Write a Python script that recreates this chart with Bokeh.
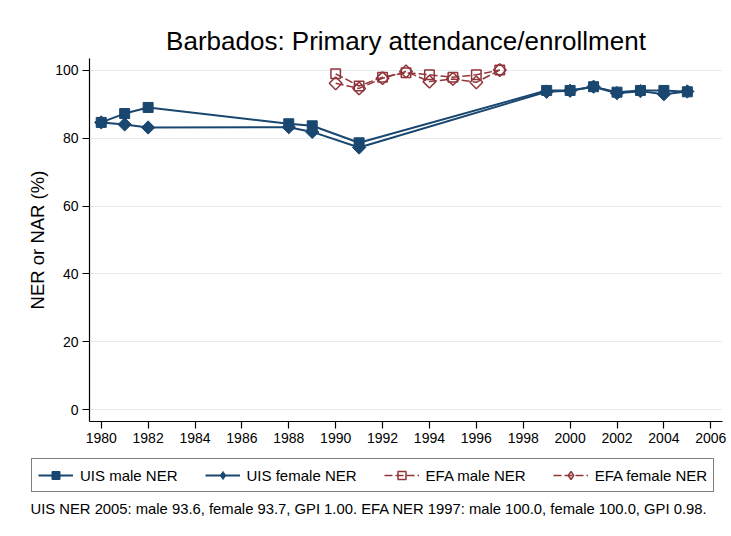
import math
from bokeh.plotting import figure
from bokeh.models import (ColumnDataSource, Legend, LegendItem, Label,
                          FixedTicker, Range1d)
from bokeh.embed import file_html
from bokeh.resources import INLINE

# ---- data ----
title_text = "Barbados: Primary attendance/enrollment"
y_label = "NER or NAR (%)"
footnote = ("UIS NER 2005: male 93.6, female 93.7, GPI 1.00. "
            "EFA NER 1997: male 100.0, female 100.0, GPI 0.98.")

uis_years = [1980, 1981, 1982, 1988, 1989, 1991, 1999, 2000, 2001, 2002, 2003, 2004, 2005]
uis_male = [84.6, 87.2, 89.0, 84.2, 83.6, 78.6, 94.0, 94.0, 95.1, 93.5, 94.0, 94.0, 93.6]
uis_female = [84.6, 84.0, 83.1, 83.2, 81.8, 77.2, 93.6, 93.9, 95.1, 93.2, 93.8, 92.9, 93.7]

efa_years = [1990, 1991, 1992, 1993, 1994, 1995, 1996, 1997]
efa_male = [98.9, 95.3, 97.9, 99.2, 98.6, 97.9, 98.6, 100.0]
efa_female = [96.1, 94.6, 97.6, 99.6, 96.6, 97.4, 96.4, 100.0]

x_ticks = list(range(1980, 2007, 2))
y_ticks = [0, 20, 40, 60, 80, 100]

series_labels = ["UIS male NER", "UIS female NER", "EFA male NER", "EFA female NER"]

NAVY = "#1a476f"
MAROON = "#90353b"
FONT = "Liberation Sans"

# plot markers: Stata-like diamonds are squares turned 45 degrees
STYLES = [
    dict(line_color=NAVY, line_width=2, line_dash="solid", marker="square",
         lmarker="square", size=10, angle=0.0, fill_color=NAVY, mline=1.0),
    dict(line_color=NAVY, line_width=2, line_dash="solid", marker="square",
         lmarker="diamond", size=9.4, angle=math.pi / 4, fill_color=NAVY, mline=1.0),
    dict(line_color=MAROON, line_width=1.5, line_dash="8 3", marker="square",
         lmarker="square", size=9.5, angle=0.0, fill_color=None, mline=1.5),
    dict(line_color=MAROON, line_width=1.5, line_dash="8 3", marker="square",
         lmarker="diamond", size=9, angle=math.pi / 4, fill_color=None, mline=1.5),
]


def add_series(fig, src, ycol, st, marker_key="marker"):
    lr = fig.line("x", ycol, source=src, line_color=st["line_color"],
                  line_width=st["line_width"], line_dash=st["line_dash"])
    sr = fig.scatter("x", ycol, source=src, marker=st[marker_key], size=st["size"],
                     angle=st["angle"], fill_color=st["fill_color"],
                     line_color=st["line_color"], line_width=st["mline"])
    return lr, sr


src_uis = ColumnDataSource(dict(x=uis_years, m=uis_male, f=uis_female))
src_efa = ColumnDataSource(dict(x=efa_years, m=efa_male, f=efa_female))
series_src = [(src_uis, "m"), (src_uis, "f"), (src_efa, "m"), (src_efa, "f")]

# ---- main chart ----
p = figure(width=731, height=452, output_backend="svg", toolbar_location=None,
           x_range=Range1d(1979.5, 2006.5), y_range=Range1d(-3.4, 103.4),
           min_border_left=89, min_border_right=9, min_border_top=58,
           min_border_bottom=31)

p.title.text = title_text
p.title.align = "center"
p.title.text_font = FONT
p.title.text_font_size = "26px"
p.title.text_font_style = "normal"
p.title.text_color = "black"
p.title.standoff = 5

p.outline_line_color = None
p.background_fill_color = "white"
p.border_fill_color = "white"

p.xgrid.grid_line_color = None
p.ygrid.grid_line_color = "#e4ecee"
p.ygrid.grid_line_width = 1.2

for ax in (p.xaxis[0], p.yaxis[0]):
    ax.axis_line_color = "black"
    ax.axis_line_width = 1.2
    ax.major_tick_line_color = "black"
    ax.major_tick_line_width = 1.2
    ax.major_tick_out = 7
    ax.major_tick_in = 0
    ax.minor_tick_line_color = None
    ax.major_label_text_font = FONT
    ax.major_label_text_font_size = "14px"
    ax.major_label_text_color = "black"
    ax.major_label_standoff = 4

p.xaxis.ticker = FixedTicker(ticks=x_ticks)
p.yaxis.ticker = FixedTicker(ticks=y_ticks)
p.yaxis.axis_label = y_label
p.yaxis.axis_label_text_font = FONT
p.yaxis.axis_label_text_font_size = "18.5px"
p.yaxis.axis_label_text_font_style = "normal"
p.yaxis.axis_label_text_color = "black"
p.yaxis.axis_label_standoff = 4

for (src, col), st in zip(series_src, STYLES):
    add_series(p, src, col, st)

# ---- legend + note strip (its own frame spans the full width) ----
q = figure(width=731, height=84, output_backend="svg", toolbar_location=None,
           x_range=Range1d(0, 1), y_range=Range1d(0, 1),
           x_axis_type=None, y_axis_type=None,
           min_border_left=0, min_border_right=0, min_border_top=0,
           min_border_bottom=0)
q.outline_line_color = None
q.xgrid.grid_line_color = None
q.ygrid.grid_line_color = None
q.background_fill_color = "white"
q.border_fill_color = "white"

items = []
for lab, (src, col), st in zip(series_labels, series_src, STYLES):
    # same data, outside this strip's ranges: only the legend swatches show
    lr, sr = add_series(q, src, col, st, marker_key="lmarker")
    items.append(LegendItem(label=lab, renderers=[lr, sr]))

legend = Legend(items=items, orientation="horizontal", location=(31, 44))
legend.border_line_color = "black"
legend.border_line_width = 1
legend.background_fill_color = "white"
legend.background_fill_alpha = 1
legend.label_text_font = FONT
legend.label_text_font_size = "15px"
legend.label_text_color = "black"
legend.glyph_width = 35
legend.glyph_height = 20
legend.label_height = 18
legend.label_standoff = 7
legend.spacing = 27
legend.padding = 6
legend.margin = 0
q.add_layout(legend, "center")

note = Label(x=30, y=28, x_units="screen", y_units="screen", text=footnote,
             text_font=FONT, text_font_size="14.8px", text_color="black",
             text_baseline="middle")
q.add_layout(note)

open("out.html", "w").write(file_html([p, q], INLINE))
